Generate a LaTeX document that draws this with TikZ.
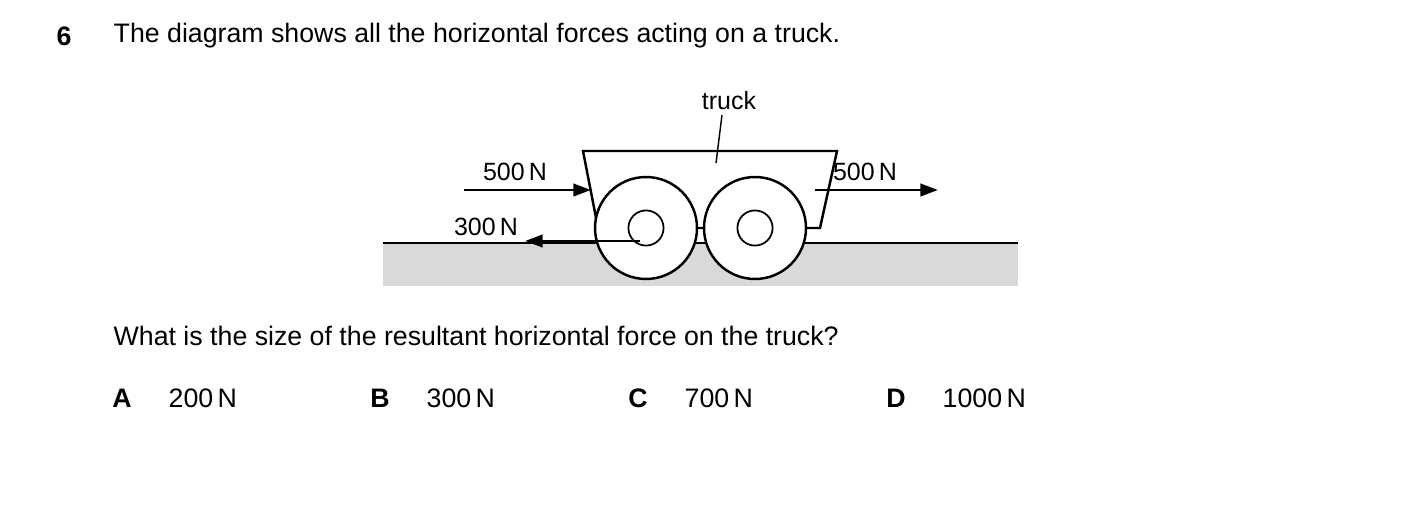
\documentclass[tikz,border=0pt]{standalone}
\usepackage{fontspec}
\setmainfont{Liberation Sans}
\usetikzlibrary{arrows.meta}
\begin{document}
\begin{tikzpicture}[x=0.01cm,y=-0.01cm,
  txt/.style={inner sep=0,font=\fontsize{7.6}{9}\selectfont},
  lab/.style={inner sep=0,font=\fontsize{7.1}{9}\selectfont},
  force/.style={line width=0.8pt,-{Triangle[length=5pt,width=3.5pt]}},
  body/.style={line width=0.7pt}]
\useasboundingbox (0,0) rectangle (1403,506);
\fill[black!15] (383,243) rectangle (1018,286);
\draw[line width=0.5pt] (383,243) -- (1018,243);
\node[txt,font=\fontsize{7.6}{9}\selectfont\bfseries] (q) at (64,36) {6};
\node[txt,anchor=west] (t1) at (113,36) {The diagram shows all the horizontal forces acting on a truck.};
\node[txt,anchor=west] (t2) at (113,336) {What is the size of the resultant horizontal force on the truck?};
\node[txt,font=\fontsize{7.6}{9}\selectfont\bfseries] (oA) at (122,398) {A};
\node[txt,anchor=west] (aA) at (168,398) {200\,N};
\node[txt,font=\fontsize{7.6}{9}\selectfont\bfseries] (oB) at (380,398) {B};
\node[txt,anchor=west] (aB) at (426,398) {300\,N};
\node[txt,font=\fontsize{7.6}{9}\selectfont\bfseries] (oC) at (638,398) {C};
\node[txt,anchor=west] (aC) at (684,398) {700\,N};
\node[txt,font=\fontsize{7.6}{9}\selectfont\bfseries] (oD) at (896,398) {D};
\node[txt,anchor=west] (aD) at (942,398) {1000\,N};
% truck
\draw[body,fill=white] (583,151) -- (837,151) -- (820,228) -- (598,228) -- cycle;
\node[draw,body,circle,fill=white,minimum size=29,inner sep=0] (w1) at (646,228) {};
\node[draw,body,circle,fill=white,minimum size=29,inner sep=0] (w2) at (755,228) {};
\node[draw,line width=0.5pt,circle,minimum size=10,inner sep=0] (h1) at (646,228) {};
\node[draw,line width=0.5pt,circle,minimum size=10,inner sep=0] (h2) at (755,228) {};
% labels
\node[lab] (tr) at (729,101) {truck};
\coordinate (tp) at (716,163);
\draw[line width=0.4pt] (722,115) -- (tp);
\node[lab] (l1) at (515,172) {500\,N};
\node[lab] (l2) at (865,172) {500\,N};
\node[lab] (l3) at (486,227) {300\,N};
% forces
\coordinate (a1s) at (464,190); \coordinate (a1e) at (591,190);
\coordinate (a2s) at (815,190); \coordinate (a2e) at (938,190);
\coordinate (a3s) at (640,241); \coordinate (a3e) at (525,241);
\draw[force] (a1s) -- (a1e);
\draw[force] (a2s) -- (a2e);
\draw[force] (a3s) -- (a3e);
\end{tikzpicture}
\end{document}
